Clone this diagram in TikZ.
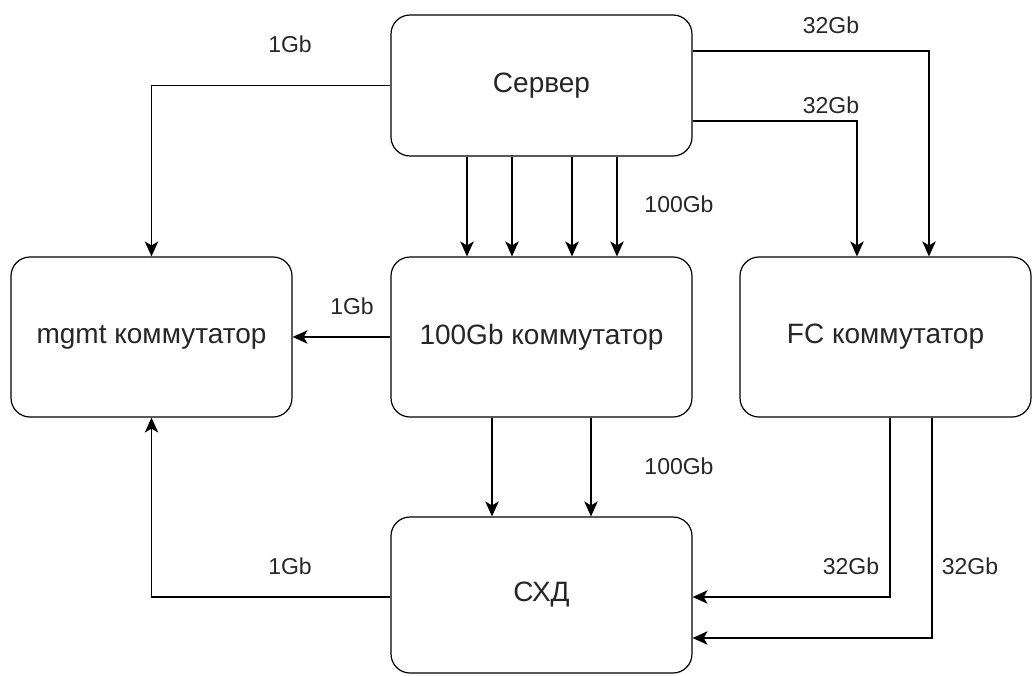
\documentclass[tikz,border=0pt]{standalone}
\usepackage{fontspec}
\setmainfont{Liberation Sans}
\usetikzlibrary{arrows.meta}
\usetikzlibrary{calc}

\begin{document}
\begin{tikzpicture}[x=1pt, y=-1pt,
  box/.style={draw, line width=\lwidth, rounded corners=19pt, inner sep=0pt,
    minimum width=301pt, minimum height=160pt, text=black!85, font=\fontsize{28}{32}\selectfont},
  conn/.style={-{Stealth[length=15pt, width=13.5pt, inset=4pt]}, line width=\lwidth},
  lbl/.style={inner sep=0pt, text=black!85, font=\fontsize{23}{27}\selectfont}]

  \def\lwidth{1.2pt}
  \def\rowtop{85.5}
  \def\rowmid{337}

  \useasboundingbox (0,0) rectangle (1033,675);

  % boxes
  \node[box, minimum height=141pt] (server) at (541.5,\rowtop) {Сервер};
  \node[box, minimum width=281pt] (mgmt) at (151.5,\rowmid) {mgmt коммутатор};
  \node[box] (sw) at (541.5,\rowmid) {100Gb коммутатор};
  \node[box, minimum width=291pt] (fc) at (885.5,\rowmid) {FC коммутатор};
  \node[box, minimum height=156pt] (stor) at (541.5,595) {СХД};

  % server links
  \draw[conn] (server.west) -| (mgmt.north);
  \draw[conn] ([yshift=34.5pt]server.east) -| ([xshift=43.5pt]fc.north);
  \draw[conn] ([yshift=-35.5pt]server.east) -| ([xshift=-28.5pt]fc.north);
  \foreach \dx in {-74.5,-29.5,30.5,75.5}
    \draw[conn] ([xshift=\dx pt]server.south) -- ([xshift=\dx pt]sw.north);

  % switch links
  \draw[conn] (sw.west) -- (mgmt.east);
  \foreach \dx in {-49.5,49.5}
    \draw[conn] ([xshift=\dx pt]sw.south) -- ([xshift=\dx pt]stor.north);
  \draw[conn] ([xshift=4.5pt]fc.south) |- ([yshift=-2pt]stor.east);
  \draw[conn] ([xshift=46.5pt]fc.south) |- ([yshift=-43pt]stor.east);

  % storage link
  \draw[conn] ([yshift=-2pt]stor.west) -| (mgmt.south);

  % speeds
  \node[lbl] (gbtop) at (290,44) {1Gb};
  \node[lbl] (fcup) at (831,25) {32Gb};
  \node[lbl] (fclow) at (831,105) {32Gb};
  \node[lbl] (hundup) at (679,204) {100Gb};
  \node[lbl] (gbmid) at (352,306) {1Gb};
  \node[lbl] (hundlow) at (679,466) {100Gb};
  \node[lbl] (gblow) at (290,566) {1Gb};
  \node[lbl] (fcleft) at (851,566) {32Gb};
  \node[lbl] (fcright) at (970,566) {32Gb};

\end{tikzpicture}
\end{document}
